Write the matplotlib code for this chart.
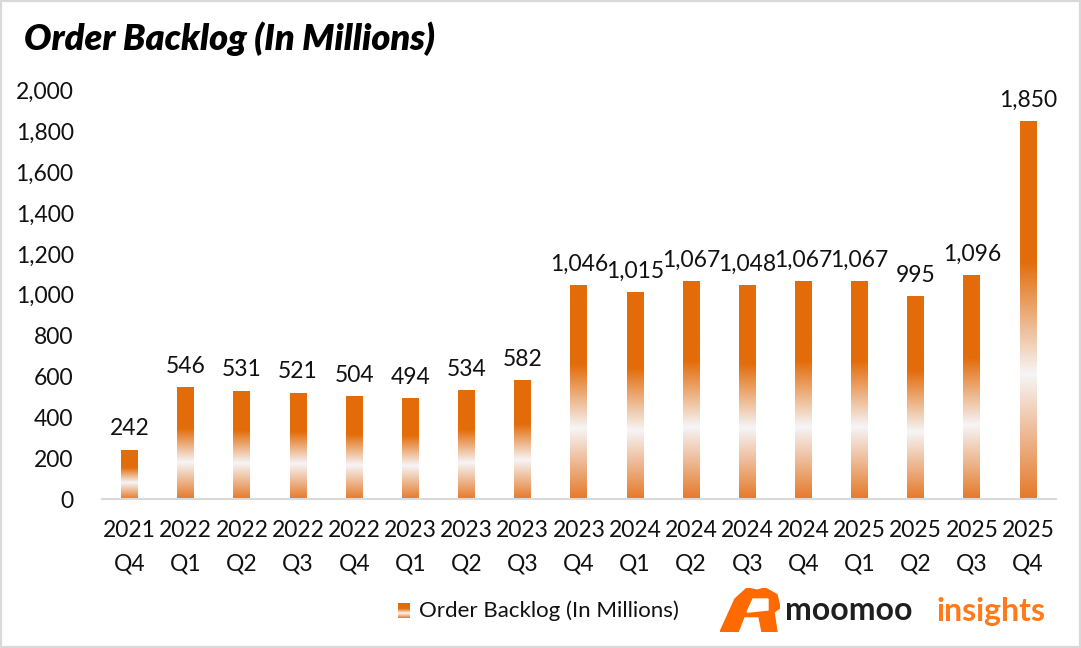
import numpy as np
import matplotlib
matplotlib.use("Agg")
import matplotlib.pyplot as plt
from matplotlib.colors import LinearSegmentedColormap
from matplotlib.patches import Rectangle, Polygon

years = ["2021", "2022", "2022", "2022", "2022", "2023", "2023", "2023", "2023",
         "2024", "2024", "2024", "2024", "2025", "2025", "2025", "2025"]
quarters = ["Q4", "Q1", "Q2", "Q3", "Q4", "Q1", "Q2", "Q3", "Q4",
            "Q1", "Q2", "Q3", "Q4", "Q1", "Q2", "Q3", "Q4"]
backlog = [242, 546, 531, 521, 504, 494, 534, 582, 1046,
           1015, 1067, 1048, 1067, 1067, 995, 1096, 1850]
series_name = "Order Backlog (In Millions)"
title = "Order Backlog (In Millions)"

ORANGE = "#E36C0A"
cmap = LinearSegmentedColormap.from_list(
    "grad", [(0.0, "#E5792A"), (0.33, "#F6F5F6"), (0.63, ORANGE), (1.0, ORANGE)])
grad = np.linspace(0, 1, 256).reshape(-1, 1)

plt.rcParams['font.family'] = ['Lato', 'DejaVu Sans']

fig = plt.figure(figsize=(10.81, 6.48), dpi=100)
ax = fig.add_axes([0.0939, 0.2299, 0.977 - 0.0939, 0.8605 - 0.2299])

labels = [f"{y}\n{q}" for y, q in zip(years, quarters)]
x = np.arange(len(backlog))
bars = ax.bar(x, backlog, width=0.3, color="none", edgecolor="none")
for b in bars:
    x0, y0 = b.get_x(), b.get_y()
    w, h = b.get_width(), b.get_height()
    im = ax.imshow(grad, cmap=cmap, origin="lower", aspect="auto",
                   extent=(x0, x0 + w, y0, y0 + h), interpolation="bilinear", zorder=2)
    im.set_clip_path(b)

for xi, v in zip(x, backlog):
    ax.text(xi, v + 50, f"{v:,}", ha="center", va="bottom", fontsize=16.5, color="#111111")

ax.set_xlim(-0.5, len(backlog) - 0.5)
ax.set_ylim(0, 2000)
ax.set_yticks(np.arange(0, 2001, 200))
ax.set_yticklabels([f"{t:,}" for t in range(0, 2001, 200)])
ax.set_xticks(x)
ax.set_xticklabels(labels, linespacing=1.75)
ax.tick_params(axis="both", length=0, labelsize=16.5, colors="#111111")
ax.tick_params(axis="y", pad=20)
ax.tick_params(axis="x", pad=15)
for s in ["top", "right", "left"]:
    ax.spines[s].set_visible(False)
ax.spines["bottom"].set_color("#D9D9D9")
ax.spines["bottom"].set_linewidth(1.5)

fig.text(0.022, 0.94, title, fontsize=26, fontweight="heavy", style="italic",
         ha="left", va="center", color="#000000")

# legend
lax = fig.add_axes([398 / 1081, 1 - 618 / 648, 12 / 1081, 15 / 648])
lax.imshow(grad, cmap=cmap, origin="lower", aspect="auto")
lax.axis("off")
fig.text(419 / 1081, 1 - 611 / 648, series_name, fontsize=16,
         ha="left", va="center", color="#111111")

# branding
fig.text(785 / 1081, 1 - 611 / 648, "moomoo", fontsize=23, fontweight="bold",
         ha="left", va="center", color="#1F1F1F")
fig.text(937 / 1081, 1 - 611 / 648, "insights", fontsize=23, fontweight="bold",
         ha="left", va="center", color="#FF7A1A")
bull = fig.add_axes([720 / 1081, 1 - 632 / 648, 60 / 1081, 44 / 648])
bull.add_patch(Polygon([(0.0, 0.0), (0.25, 0.75), (0.45, 1.0), (0.62, 0.95), (0.75, 1.0),
                        (0.95, 0.85), (1.0, 0.55), (0.9, 0.45), (0.95, 0.0), (0.7, 0.0),
                        (0.65, 0.35), (0.4, 0.35), (0.3, 0.0)], color="#FF6A00"))
bull.add_patch(Polygon([(0.45, 0.45), (0.55, 0.75), (0.8, 0.75), (0.8, 0.5)], color="white"))
bull.set_xlim(0, 1); bull.set_ylim(0, 1); bull.axis("off")

fig.patches.append(Rectangle((0, 0), 1, 1, transform=fig.transFigure, fill=False,
                             edgecolor="#D9D9D9", linewidth=3))

fig.savefig("out.png", dpi=100)
